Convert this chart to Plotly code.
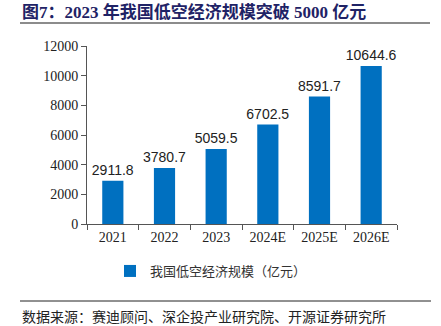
import plotly.graph_objects as go

categories = ["2021", "2022", "2023", "2024E", "2025E", "2026E"]
values = [2911.8, 3780.7, 5059.5, 6702.5, 8591.7, 10644.6]
value_labels = ["2911.8", "3780.7", "5059.5", "6702.5", "8591.7", "10644.6"]
series_name = "我国低空经济规模（亿元）"
title_text = "图7：2023 年我国低空经济规模突破 5000 亿元"
source_text = "数据来源：赛迪顾问、深企投产业研究院、开源证券研究所"

W, H = 441, 326
L, R, T, B = 87, 44, 46, 102
pw, ph = W - L - R, H - T - B

def px(x):
    return (x - L) / pw

def py(y):
    return (H - B - y) / ph

fig = go.Figure()
fig.add_trace(go.Bar(
    x=categories, y=values, name=series_name,
    marker=dict(color="#0070C0", line=dict(width=0)),
    text=value_labels, textposition="outside", constraintext="none",
    textfont=dict(family="Liberation Sans, Arial", size=14, color="#222222"),
    cliponaxis=False,
))

fig.update_layout(
    width=W, height=H,
    margin=dict(l=L, r=R, t=T, b=B),
    paper_bgcolor="white", plot_bgcolor="white",
    bargap=0.59,
    showlegend=True,
    legend=dict(orientation="h", x=px(110), y=py(271), xanchor="left", yanchor="middle",
                font=dict(family="Noto Sans CJK SC", size=13, color="#333333"),
                itemwidth=30, bgcolor="rgba(0,0,0,0)"),
    xaxis=dict(
        showline=True, linecolor="#555555", linewidth=1,
        ticks="outside", ticklen=5, tickcolor="#555555", tickson="boundaries",
        tickfont=dict(family="Liberation Serif, Times New Roman", size=14, color="#222222"),
        showgrid=False,
    ),
    yaxis=dict(
        range=[0, 12000], dtick=2000, tickformat="d",
        showline=True, linecolor="#555555", linewidth=1,
        ticks="outside", ticklen=5, tickcolor="#555555",
        tickfont=dict(family="Liberation Serif, Times New Roman", size=14, color="#222222"),
        showgrid=False, zeroline=False,
    ),
    font=dict(family="Noto Sans CJK SC"),
)

fig.add_annotation(
    text="<b>" + title_text + "</b>", xref="paper", yref="paper",
    x=px(20), y=py(12), xanchor="left", yanchor="middle", showarrow=False,
    font=dict(family="Liberation Serif, Noto Sans CJK SC", size=17, color="#1F2366"),
)
fig.add_shape(type="line", xref="paper", yref="paper",
              x0=px(20), x1=px(430), y0=py(23), y1=py(23),
              line=dict(color="#8C8C8C", width=2))
fig.add_shape(type="line", xref="paper", yref="paper",
              x0=px(20), x1=px(431), y0=py(301), y1=py(301),
              line=dict(color="#222222", width=1))
fig.add_annotation(
    text=source_text, xref="paper", yref="paper",
    x=px(20), y=py(316), xanchor="left", yanchor="middle", showarrow=False,
    font=dict(family="Noto Sans CJK SC", size=14, color="#222222"),
)

fig.write_html("out.html")
